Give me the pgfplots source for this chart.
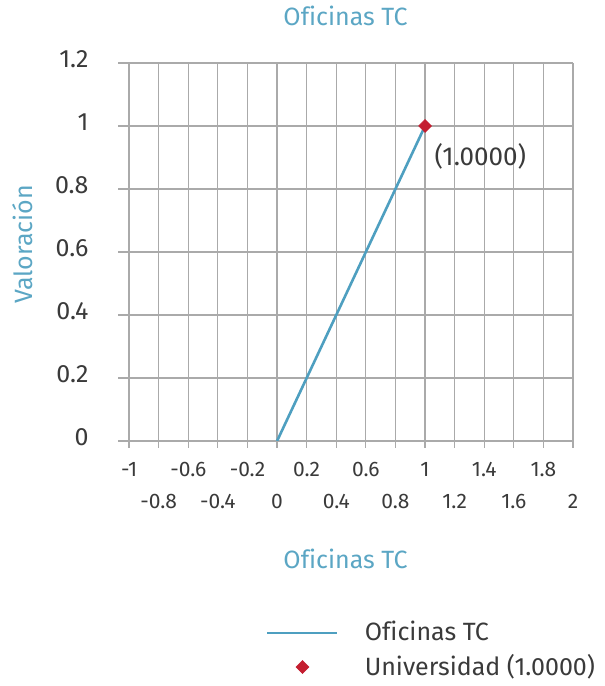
\documentclass[border=0pt]{standalone}
\usepackage{fontspec}
\setmainfont{Fira Sans}[Ligatures=NoCommon]
\usepackage{pgfplots}
\pgfplotsset{compat=1.18}
\definecolor{tealline}{HTML}{4E9FC0}
\definecolor{tealtext}{HTML}{5BA6C4}
\definecolor{reddot}{HTML}{C41E30}
\definecolor{gridgray}{HTML}{AAAAAA}
\definecolor{txt}{HTML}{3A3A3A}
\pgfplotsset{
  longline legend/.style={legend image code/.code={\draw[##1] (0bp,0bp) -- (70bp,0bp);}},
  dot legend/.style={legend image code/.code={\draw[mark repeat=1,mark phase=1,##1] plot coordinates {(35bp,0bp)};}},
}
\newcommand{\bigf}{\fontsize{25bp}{30bp}\selectfont}
\begin{document}
\begin{tikzpicture}
\bigf
\useasboundingbox (0,0) rectangle (605bp,686bp);
\begin{axis}[
  at={(118bp,245bp)}, anchor=south west,
  scale only axis, width=455bp, height=378bp,
  xmin=-1.075, xmax=2, ymin=0, ymax=1.2,
  axis x line*=bottom, axis y line*=left,
  x axis line style={gridgray, line width=1.2bp},
  y axis line style={draw=none},
  xtick={-1,-0.6,-0.2,0.2,0.6,1,1.4,1.8},
  xticklabels={-1,-0.6,-0.2,0.2,0.6,1,1.4,1.8},
  extra x ticks={-0.8,-0.4,0,0.4,0.8,1.2,1.6,2},
  extra x tick labels={-0.8,-0.4,0,0.4,0.8,1.2,1.6,2},
  extra x tick style={tick label style={yshift=-32bp}},
  ytick={0,0.2,0.4,0.6,0.8,1,1.2},
  yticklabels={0,0.2,0.4,0.6,0.8,1,1.2},
  ytick style={draw=none},
  xtick style={gridgray, line width=1.2bp},
  tick align=outside, major tick length=7bp,
  grid=major, major grid style={gridgray, line width=1.2bp},
  xticklabel style={font=\fontsize{21bp}{25bp}\selectfont, text=txt, yshift=-6bp},
  yticklabel style={font=\fontsize{25bp}{30bp}\selectfont, text=txt, anchor=east, xshift=-14bp, yshift=4bp},
  title={Oficinas TC},
  title style={at={(axis description cs:0.5,1)}, anchor=base, yshift=32bp, font=\bigf, text=tealtext},
  xlabel={Oficinas TC},
  xlabel style={at={(axis description cs:0.5,0)}, anchor=base, yshift=-127bp, font=\bigf, text=tealtext},
  ylabel={Valoración},
  ylabel style={at={(axis description cs:-0.187,0.52)}, anchor=base, font=\bigf, text=tealtext},
  legend style={at={(axis description cs:0.3187,-0.466)}, anchor=north west, draw=none, fill=none,
    font=\bigf, text=txt, row sep=6bp},
  legend cell align=left,
]
\addplot[tealline, line width=2.6bp, longline legend]
  coordinates {(0,0) (1,1)};
\addlegendentry{\hspace{24bp}Oficinas TC}
\addplot[only marks, mark=square*, mark size=4.6bp, mark options={rotate=45, reddot, draw=reddot, fill=reddot}, dot legend]
  coordinates {(1,1)}
  node[anchor=north west, xshift=1bp, yshift=-9bp, text=txt, font=\fontsize{26bp}{30bp}\selectfont] {(1.0000)};
\addlegendentry{\hspace{24bp}Universidad (1.0000)}
\end{axis}
\end{tikzpicture}
\end{document}
